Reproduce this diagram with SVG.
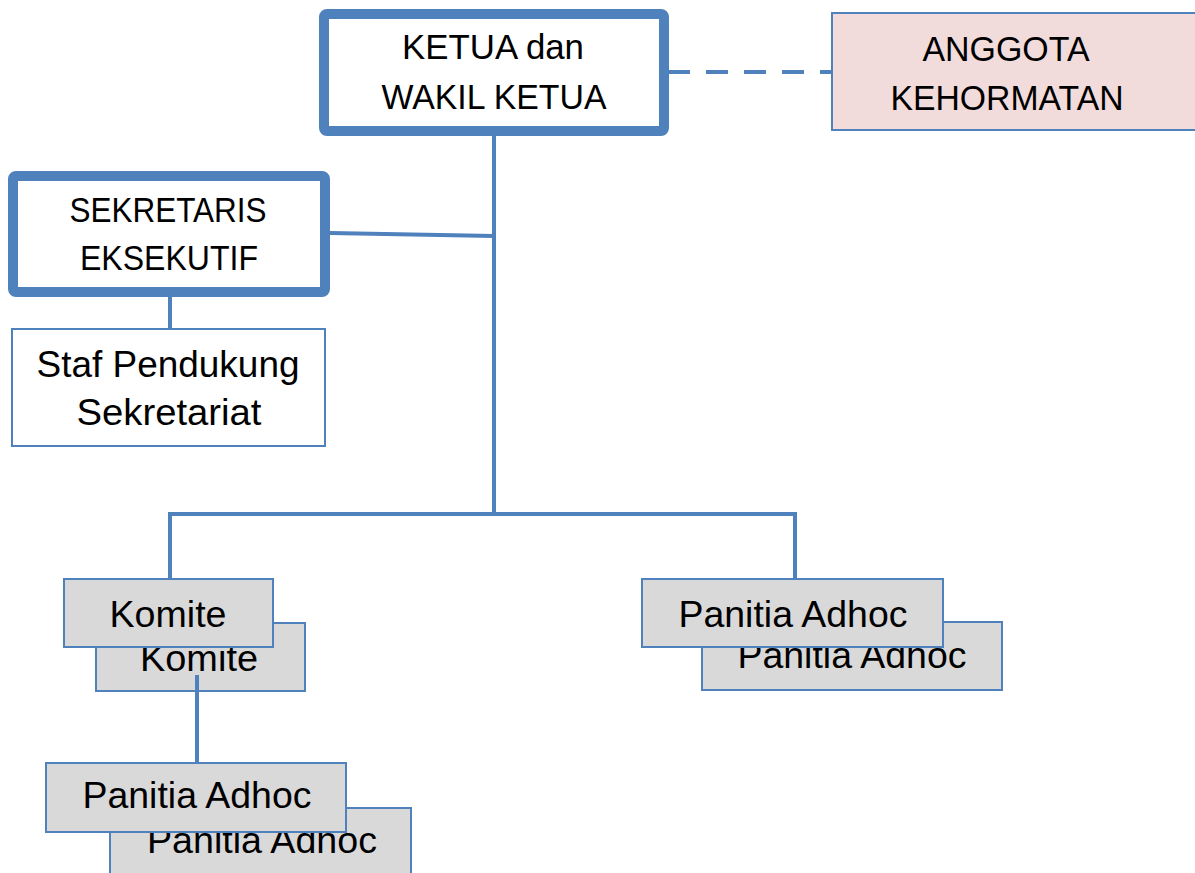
<svg xmlns="http://www.w3.org/2000/svg" width="1195" height="873" viewBox="0 0 1195 873">
<style>
.t{font-family:"Liberation Sans",Arial,sans-serif;fill:#000;text-anchor:middle}
.s34{font-size:35px}
.s36{font-size:36px}
.thick{fill:#fff;stroke:#4f81bd;stroke-width:10}
.thin{fill:#fff;stroke:#4f81bd;stroke-width:2}
.grey{fill:#d9d9d9;stroke:#4f81bd;stroke-width:2}
.pink{fill:#f2dcdb;stroke:#4f81bd;stroke-width:2}
.c{fill:none;stroke:#4f81bd;stroke-width:4}
</style>
<rect width="1195" height="873" fill="#fff"/>
<g id="ketua">
<rect class="thick" x="324" y="14" width="340" height="117" rx="3"/>
<text class="t s34" x="493" y="59" textLength="182" lengthAdjust="spacingAndGlyphs">KETUA dan</text>
<text class="t s34" x="494" y="109" textLength="225" lengthAdjust="spacingAndGlyphs">WAKIL KETUA</text>
</g>
<g id="anggota">
<rect class="pink" x="832" y="13" width="380" height="117"/>
<text class="t s34" x="1006" y="61" textLength="167" lengthAdjust="spacingAndGlyphs">ANGGOTA</text>
<text class="t s34" x="1007" y="110" textLength="233" lengthAdjust="spacingAndGlyphs">KEHORMATAN</text>
</g>
<g id="sekretaris">
<rect class="thick" x="13" y="176" width="312" height="116" rx="3"/>
<text class="t s34" x="168" y="222" textLength="197" lengthAdjust="spacingAndGlyphs">SEKRETARIS</text>
<text class="t s34" x="169" y="270" textLength="178" lengthAdjust="spacingAndGlyphs">EKSEKUTIF</text>
</g>
<g id="staf">
<rect class="thin" x="12" y="329" width="313" height="117"/>
<text class="t s36" x="168" y="377" textLength="263" lengthAdjust="spacingAndGlyphs">Staf Pendukung</text>
<text class="t s36" x="169" y="425" textLength="185" lengthAdjust="spacingAndGlyphs">Sekretariat</text>
</g>
<g id="komite-back">
<rect class="grey" x="96" y="623" width="209" height="68"/>
<text class="t s36" x="199" y="671" textLength="118" lengthAdjust="spacingAndGlyphs">Komite</text>
</g>
<g id="komite">
<rect class="grey" x="64" y="579" width="209" height="68"/>
<text class="t s36" x="168" y="627" textLength="117" lengthAdjust="spacingAndGlyphs">Komite</text>
</g>
<g id="panitia1-back">
<rect class="grey" x="702" y="622" width="300" height="68"/>
<text class="t s36" x="852" y="668" textLength="229" lengthAdjust="spacingAndGlyphs">Panitia Adhoc</text>
</g>
<g id="panitia1">
<rect class="grey" x="642" y="579" width="301" height="68"/>
<text class="t s36" x="793" y="627" textLength="229" lengthAdjust="spacingAndGlyphs">Panitia Adhoc</text>
</g>
<g id="panitia2-back">
<rect class="grey" x="110" y="808" width="301" height="80"/>
<text class="t s36" x="262" y="853" textLength="230" lengthAdjust="spacingAndGlyphs">Panitia Adhoc</text>
</g>
<g id="panitia2">
<rect class="grey" x="46" y="763" width="300" height="69"/>
<text class="t s36" x="197" y="808" textLength="229" lengthAdjust="spacingAndGlyphs">Panitia Adhoc</text>
</g>
<g id="connectors">
<line class="c" x1="668" y1="72" x2="832" y2="72" stroke-width="5" stroke-dasharray="22,16"/>
<line class="c" x1="494" y1="136" x2="494" y2="514"/>
<polyline class="c" points="330,233 494,236"/>
<line class="c" x1="170" y1="297" x2="170" y2="329"/>
<polyline class="c" points="170,579 170,514 795,514 795,579"/>
<line class="c" x1="197" y1="675" x2="197" y2="763"/>
</g>
</svg>
